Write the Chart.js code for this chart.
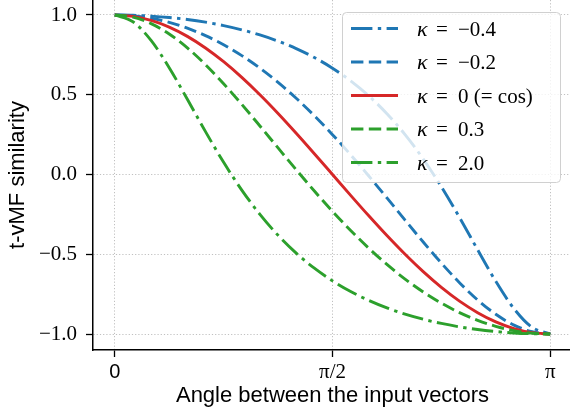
<!DOCTYPE html>
<html lang="en">
<head>
    <meta charset="UTF-8">
    <title>t-vMF similarity</title>
    <script src="https://cdn.jsdelivr.net/npm/chart.js"></script>
    <style>
        html, body {
            margin: 0;
            padding: 0;
            overflow: hidden;
            background: #fff;
        }
        #wrap {
            position: absolute;
            left: 0;
            top: 0;
            width: 576px;
            height: 414px;
        }
    </style>
</head>
<body>
    <div id="wrap"><canvas id="simChart" width="576" height="414"></canvas></div>
    <script>
        // angle in degrees (0 .. 180), step 7.5
        const angles = [0, 7.5, 15, 22.5, 30, 37.5, 45, 52.5, 60, 67.5, 75, 82.5, 90,
            97.5, 105, 112.5, 120, 127.5, 135, 142.5, 150, 157.5, 165, 172.5, 180];

        const kNeg04 = [1, 0.9983, 0.9931, 0.9843, 0.9717, 0.9549, 0.9336, 0.9072, 0.875, 0.8361, 0.7893, 0.7334, 0.6667,
            0.5872, 0.4929, 0.3812, 0.25, 0.0975, -0.0765, -0.2689, -0.4717, -0.6697, -0.8405, -0.9579, -1];
        const kNeg02 = [1, 0.9949, 0.9794, 0.9536, 0.9174, 0.8707, 0.8133, 0.7453, 0.6667, 0.5774, 0.4779, 0.3685, 0.25,
            0.1235, -0.0094, -0.1467, -0.2857, -0.4232, -0.5553, -0.6778, -0.7863, -0.8763, -0.9438, -0.9858, -1];
        const kZero = [1, 0.9914, 0.9659, 0.9239, 0.866, 0.7934, 0.7071, 0.6088, 0.5, 0.3827, 0.2588, 0.1305, 0,
            -0.1305, -0.2588, -0.3827, -0.5, -0.6088, -0.7071, -0.7934, -0.866, -0.9239, -0.9659, -0.9914, -1];
        const kPos03 = [1, 0.9863, 0.946, 0.8809, 0.7939, 0.6887, 0.5692, 0.4398, 0.3043, 0.1666, 0.0298, -0.1034, -0.2308,
            -0.3507, -0.462, -0.5637, -0.6552, -0.7361, -0.8063, -0.8656, -0.9141, -0.9517, -0.9786, -0.9946, -1];
        const kPos20 = [1, 0.9579, 0.8405, 0.6697, 0.4717, 0.2689, 0.0765, -0.0975, -0.25, -0.3812, -0.4929, -0.5872, -0.6667,
            -0.7334, -0.7893, -0.8361, -0.875, -0.9072, -0.9336, -0.9549, -0.9717, -0.9843, -0.9931, -0.9983, -1];

        const kappaLabels = ['−0.4', '−0.2', '0 (= cos)', '0.3', '2.0'];

        const xTicks = [0, 90, 180];
        const xTickLabels = ['0', 'π/2', 'π'];
        const yTicks = [-1, -0.5, 0, 0.5, 1];
        const yTickLabels = ['−1.0', '−0.5', '0.0', '0.5', '1.0'];

        const BLUE = '#1f77b4', RED = '#d62728', GREEN = '#2ca02c';
        const LW = 2.9;
        const DASHED = [12.4, 5.4];
        const DASHDOT = [21.4, 5.4, 3.4, 5.4];

        const seriesList = [kNeg04, kNeg02, kZero, kPos03, kPos20];
        const styles = [
            { color: BLUE, dash: DASHDOT },
            { color: BLUE, dash: DASHED },
            { color: RED, dash: [] },
            { color: GREEN, dash: DASHED },
            { color: GREEN, dash: DASHDOT }
        ];

        const datasets = seriesList.map((vals, i) => ({
            label: 'κ = ' + kappaLabels[i],
            data: angles.map((a, j) => ({ x: a, y: vals[j] })),
            borderColor: styles[i].color,
            borderDash: styles[i].dash,
            borderWidth: LW,
            pointRadius: 0,
            fill: false,
            cubicInterpolationMode: 'monotone',
            order: 10 - i
        }));

        // legend drawn inside the plot, like matplotlib's
        const legendBox = {
            id: 'legendBox',
            afterDatasetsDraw(chart) {
                const ctx = chart.ctx;
                ctx.save();
                ctx.beginPath();
                ctx.roundRect(342.5, 12.5, 218, 170, 4);
                ctx.fillStyle = 'rgba(255,255,255,0.8)';
                ctx.fill();
                ctx.strokeStyle = '#d0d0d0';
                ctx.lineWidth = 1;
                ctx.stroke();

                chart.data.datasets.forEach((ds, i) => {
                    const y = 28.5 + i * 33.5;
                    ctx.beginPath();
                    ctx.strokeStyle = ds.borderColor;
                    ctx.lineWidth = ds.borderWidth;
                    ctx.setLineDash(ds.borderDash || []);
                    ctx.moveTo(351, y);
                    ctx.lineTo(398, y);
                    ctx.stroke();
                    ctx.setLineDash([]);

                    ctx.fillStyle = '#000';
                    ctx.textBaseline = 'middle';
                    ctx.font = 'italic 22px "Liberation Serif"';
                    ctx.fillText('κ', 417, y + 1.5);
                    ctx.font = '21px "Liberation Serif"';
                    ctx.fillText('=', 436, y + 1.5);
                    ctx.fillText(kappaLabels[i], 458, y + 1.5);
                });
                ctx.restore();
            }
        };

        const ctx = document.getElementById('simChart').getContext('2d');
        const simChart = new Chart(ctx, {
            type: 'line',
            data: { datasets: datasets },
            options: {
                responsive: false,
                animation: false,
                devicePixelRatio: 1,
                layout: { padding: { left: 0, right: 4, top: 0, bottom: 0 } },
                plugins: {
                    legend: { display: false },
                    tooltip: { enabled: false }
                },
                scales: {
                    x: {
                        type: 'linear',
                        min: -9,
                        max: 189,
                        afterBuildTicks: scale => { scale.ticks = xTicks.map(v => ({ value: v })); },
                        afterFit: scale => {
                            scale.height = 64;
                            scale.paddingLeft = 0;
                            scale.paddingRight = 0;
                        },
                        ticks: {
                            color: '#000',
                            padding: 3,
                            maxRotation: 0,
                            font: c => (c.tick && c.tick.value === 0)
                                ? { family: 'Liberation Sans', size: 20 }
                                : { family: 'Liberation Serif', size: 21 },
                            callback: v => xTickLabels[xTicks.indexOf(v)]
                        },
                        grid: {
                            color: '#b0b0b0',
                            lineWidth: 0.8,
                            tickColor: '#000',
                            tickLength: 7,
                            tickWidth: 1.3
                        },
                        border: { display: true, color: '#000', width: 1.5, dash: [1.2, 2] },
                        title: {
                            display: true,
                            text: 'Angle between the input vectors',
                            color: '#000',
                            font: { family: 'Liberation Sans', size: 22 },
                            padding: { top: 0, bottom: 5 }
                        }
                    },
                    y: {
                        min: -1.1,
                        max: 1.094,
                        afterBuildTicks: scale => { scale.ticks = yTicks.map(v => ({ value: v })); },
                        afterFit: scale => {
                            scale.width = 93;
                            scale.paddingTop = 0;
                            scale.paddingBottom = 0;
                        },
                        ticks: {
                            color: '#000',
                            padding: 9,
                            font: { family: 'Liberation Serif', size: 21 },
                            callback: v => yTickLabels[yTicks.indexOf(v)]
                        },
                        grid: {
                            color: '#b0b0b0',
                            lineWidth: 0.8,
                            tickColor: '#000',
                            tickLength: 7,
                            tickWidth: 1.3
                        },
                        border: { display: true, color: '#000', width: 1.5, dash: [1.2, 2] },
                        title: {
                            display: true,
                            text: 't-vMF similarity',
                            color: '#000',
                            font: { family: 'Liberation Sans', size: 22 },
                            padding: { top: 5, bottom: 0 }
                        }
                    }
                }
            },
            plugins: [legendBox]
        });
    </script>
</body>
</html>
